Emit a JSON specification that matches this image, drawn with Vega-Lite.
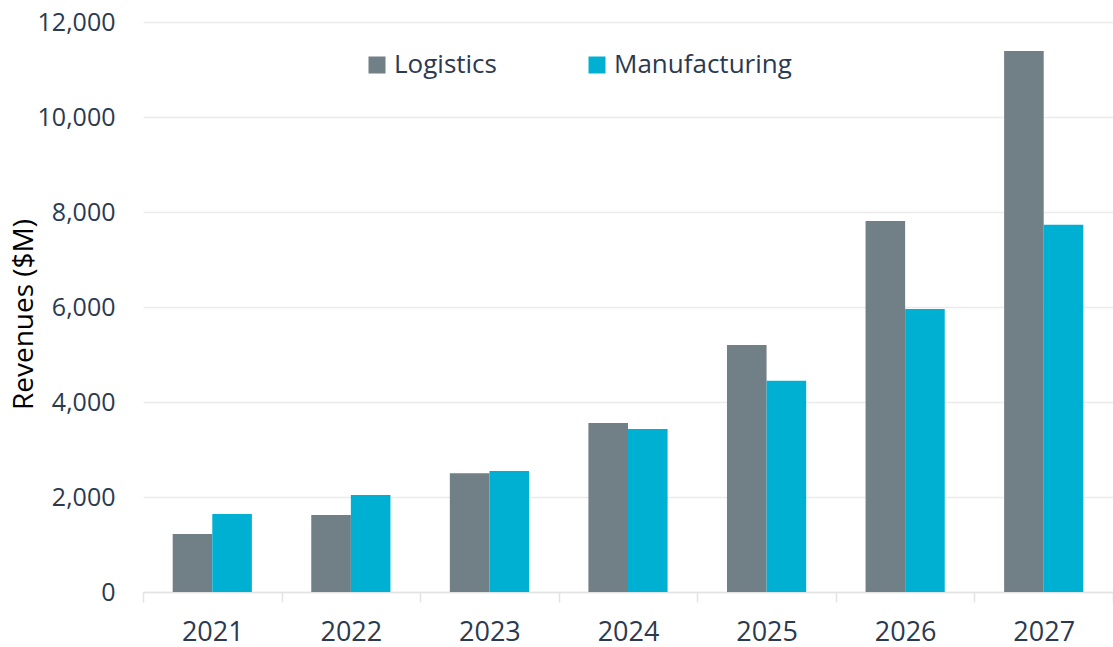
{
  "$schema": "https://vega.github.io/schema/vega-lite/v6.json",
  "width": 970,
  "height": 570,
  "autosize": {"type": "none"},
  "padding": {"left": 143, "top": 22, "right": 0, "bottom": 55},
  "background": "white",
  "config": {
    "font": "Open Sans",
    "view": {"stroke": null},
    "axis": {"labelColor": "#2b3a4f", "labelFontSize": 25, "labelFont": "Open Sans"}
  },
  "data": {
    "values": [
      {"year": "2021", "segment": "Logistics", "revenue": 1220},
      {"year": "2021", "segment": "Manufacturing", "revenue": 1640},
      {"year": "2022", "segment": "Logistics", "revenue": 1620},
      {"year": "2022", "segment": "Manufacturing", "revenue": 2040},
      {"year": "2023", "segment": "Logistics", "revenue": 2500},
      {"year": "2023", "segment": "Manufacturing", "revenue": 2550},
      {"year": "2024", "segment": "Logistics", "revenue": 3560},
      {"year": "2024", "segment": "Manufacturing", "revenue": 3430},
      {"year": "2025", "segment": "Logistics", "revenue": 5200},
      {"year": "2025", "segment": "Manufacturing", "revenue": 4450},
      {"year": "2026", "segment": "Logistics", "revenue": 7810},
      {"year": "2026", "segment": "Manufacturing", "revenue": 5960},
      {"year": "2027", "segment": "Logistics", "revenue": 11390},
      {"year": "2027", "segment": "Manufacturing", "revenue": 7730}
    ]
  },
  "mark": {"type": "bar"},
  "encoding": {
    "x": {
      "field": "year", "type": "ordinal",
      "scale": {"paddingInner": 0, "paddingOuter": 0},
      "axis": {
        "title": null, "labelAngle": 0, "domain": true, "domainColor": "#e3e3e3", "domainWidth": 1.5,
        "ticks": true, "tickBand": "extent", "tickSize": 10, "tickColor": "#e3e3e3", "tickWidth": 1.5,
        "labelPadding": 17, "labelFontSize": 27, "grid": false
      }
    },
    "xOffset": {
      "field": "segment", "type": "nominal", "sort": ["Logistics", "Manufacturing"],
      "scale": {"paddingInner": 0, "paddingOuter": 0.75}
    },
    "y": {
      "field": "revenue", "type": "quantitative",
      "scale": {"domain": [0, 12000], "nice": false},
      "axis": {
        "title": "Revenues ($M)", "titleFontSize": 28, "titleFont": "Open Sans", "titleFontWeight": "normal", "titleColor": "#000000",
        "titlePadding": -1, "titleY": 292,
        "values": [0, 2000, 4000, 6000, 8000, 10000, 12000],
        "format": ",d", "domain": false, "ticks": false, "labelPadding": 28,
        "grid": true, "gridColor": "#ebebeb", "gridWidth": 1.5
      }
    },
    "color": {
      "field": "segment", "type": "nominal",
      "scale": {"domain": ["Logistics", "Manufacturing"], "range": ["#717f86", "#00b0d3"]},
      "legend": {
        "title": null, "orient": "none", "direction": "horizontal",
        "legendX": 221, "legendY": 30,
        "symbolType": "square", "symbolSize": 289, "symbolStrokeWidth": 0,
        "labelFontSize": 26, "labelColor": "#2b3a4f", "labelFont": "Open Sans", "labelLimit": 400,
        "labelOffset": 4, "columnPadding": 87
      }
    }
  }
}
